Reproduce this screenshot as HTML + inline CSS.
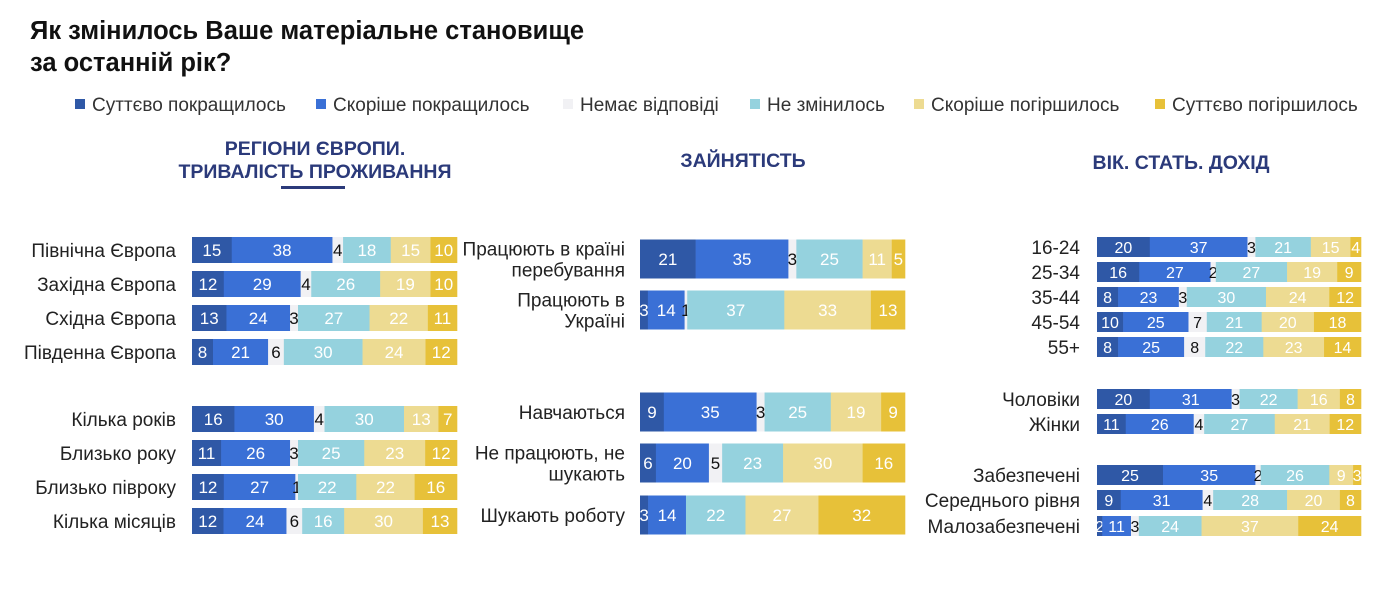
<!DOCTYPE html>
<html><head><meta charset="utf-8">
<style>
body{margin:0;width:1387px;height:604px;background:#fff;overflow:hidden;font-family:"Liberation Sans","DejaVu Sans",sans-serif;}
svg{display:block}
</style></head>
<body>
<svg id="chart" width="1387" height="604">
<text x="30" y="39" font-size="25.5" font-weight="bold" fill="#111">Як змінилось Ваше матеріальне становище</text>
<text x="30" y="71" font-size="25.5" font-weight="bold" fill="#111">за останній рік?</text>
<g id="legend"></g>
<text x="315" y="155" font-size="19.5" font-weight="bold" fill="#2b3a7a" text-anchor="middle">РЕГІОНИ ЄВРОПИ.</text>
<text x="315" y="178" font-size="19.5" font-weight="bold" fill="#2b3a7a" text-anchor="middle">ТРИВАЛІСТЬ ПРОЖИВАННЯ</text>
<rect x="281" y="186" width="64" height="3" fill="#2b3a7a"/>
<text x="743" y="167" font-size="19.5" font-weight="bold" fill="#2b3a7a" text-anchor="middle">ЗАЙНЯТІСТЬ</text>
<text x="1181" y="169" font-size="19.5" font-weight="bold" fill="#2b3a7a" text-anchor="middle">ВІК. СТАТЬ. ДОХІД</text>
<g id="bars"></g>
</svg>
<script>
const series = ["Суттєво покращилось","Скоріше покращилось","Немає відповіді","Не змінилось","Скоріше погіршилось","Суттєво погіршилось"];
const colors = ["#2f58a6","#3a70d6","#f1f1f4","#95d2de","#eddb92","#e7c139"];
const legendX = [75,316,563,750,914,1155];

const catsA = ["Північна Європа","Західна Європа","Східна Європа","Південна Європа","Кілька років","Близько року","Близько півроку","Кілька місяців"];
const valsA = [[15,38,4,18,15,10],[12,29,4,26,19,10],[13,24,3,27,22,11],[8,21,6,30,24,12],[16,30,4,30,13,7],[11,26,3,25,23,12],[12,27,1,22,22,16],[12,24,6,16,30,13]];
const catsB = [["Працюють в країні","перебування"],["Працюють в","Україні"],["Навчаються"],["Не працюють, не","шукають"],["Шукають роботу"]];
const valsB = [[21,35,3,25,11,5],[3,14,1,37,33,13],[9,35,3,25,19,9],[6,20,5,23,30,16],[3,14,0,22,27,32]];
const catsC = ["16-24","25-34","35-44","45-54","55+","Чоловіки","Жінки","Забезпечені","Середнього рівня","Малозабезпечені"];
const valsC = [[20,37,3,21,15,4],[16,27,2,27,19,9],[8,23,3,30,24,12],[10,25,7,21,20,18],[8,25,8,22,23,14],[20,31,3,22,16,8],[11,26,4,27,21,12],[25,35,2,26,9,3],[9,31,4,28,20,8],[2,11,3,24,37,24]];

const svg = document.getElementById('chart');
const NS = "http://www.w3.org/2000/svg";
function mk(tag, attrs){const e=document.createElementNS(NS,tag);for(const k in attrs)e.setAttribute(k,attrs[k]);return e;}

const lg = document.getElementById('legend');
series.forEach((s,i)=>{
  const r = mk('rect',{x:legendX[i],y:99,width:10,height:10,fill:colors[i]});
  
  
  lg.appendChild(r);
  const t = mk('text',{x:legendX[i]+17,y:111,'font-size':19,fill:'#333'});
  t.textContent = s;
  
  
  lg.appendChild(t);
});

const g = document.getElementById('bars');
function panel(cats, vals, x0, w, centers, h, labelX, fs){
  cats.forEach((c,ri)=>{
    const lines = Array.isArray(c)?c:[c];
    const cy = centers[ri];
    lines.forEach((ln,li)=>{
      const t = mk('text',{x:labelX,y:cy+7+(li-(lines.length-1)/2)*21,'font-size':19,fill:'#222','text-anchor':'end'});
      t.textContent = ln;
      
      
      g.appendChild(t);
    });
    const row = vals[ri];
    const tot = row.reduce((a,b)=>a+b,0);
    let x = x0;
    row.forEach((v,si)=>{
      const bw = v/tot*w;
      if(v>0){
        const r = mk('rect',{x:x,y:cy-h/2,width:bw+0.3,height:h,fill:colors[si]});
        
        
        g.appendChild(r);
        const t = mk('text',{x:x+bw/2,y:cy+fs*0.36,'font-size':fs,fill:si==2?'#111':'#fff','text-anchor':'middle'});
        t.textContent = v;
        
        
        g.appendChild(t);
      }
      x += bw;
    });
  });
}
panel(catsA, valsA, 192, 265, [250,284,318,352,419,453,487,521], 26, 176, 17);
panel(catsB, valsB, 640, 265, [259,310,412,463,515], 39, 625, 17);
panel(catsC, valsC, 1097, 264, [247,272,297,322,347,399,424,475,500,526], 20, 1080, 16);
</script>
</body></html>
